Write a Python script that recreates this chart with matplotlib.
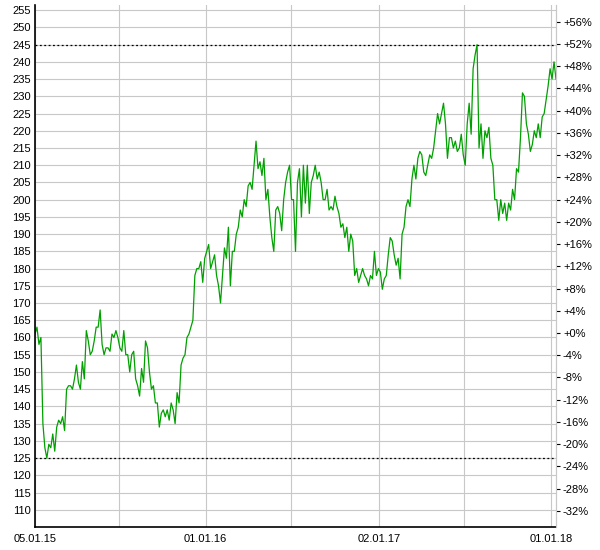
import matplotlib
matplotlib.use("Agg")
import matplotlib.pyplot as plt
import pandas as pd

plt.rcParams['font.family'] = ['Liberation Sans', 'DejaVu Sans']

values = [161,163,158,160,135,128,125,129,128,132,127,134,136,135,137,133,145,146,146,145,148,152,147,145,153,148,162,159,155,156,159,163,163,168,158,155,157,157,156,161,160,162,160,157,156,162,155,155,150,155,156,148,146,143,151,147,159,157,150,145,146,141,141,134,138,139,137,139,136,141,139,135,144,141,152,154,155,160,161,163,165,178,180,180,182,176,183,185,187,180,182,184,178,175,170,178,186,183,192,175,185,185,190,192,197,195,200,198,204,205,203,210,217,209,211,207,212,200,203,195,189,185,197,198,196,191,200,205,208,210,200,200,185,205,209,195,210,199,210,196,205,207,210,206,208,205,200,200,203,197,198,197,201,198,196,192,193,189,192,185,190,188,178,180,176,178,180,178,177,175,178,177,185,178,180,179,174,177,178,184,189,188,184,181,183,177,190,192,198,200,198,206,210,206,212,214,213,208,207,210,213,212,215,220,225,222,225,228,222,212,218,218,215,217,214,215,219,213,210,222,228,219,238,242,245,215,222,212,220,218,221,212,210,200,200,194,200,196,199,194,199,197,203,200,209,208,218,231,230,222,219,214,216,220,218,222,218,224,225,229,233,238,235,240,235]
start_date = "2015-01-05"
end_date = "2018-01-12"
base = 161.3
left_ticks = list(range(110, 256, 5))
pct_ticks = list(range(-32, 57, 4))
x_ticks = ["2015-01-05", "2016-01-01", "2017-01-02", "2018-01-01"]
x_labels = ["05.01.15", "01.01.16", "02.01.17", "01.01.18"]
half_years = ["2015-07-01", "2016-07-01", "2017-07-01"]

dates = pd.date_range(start_date, end_date, periods=len(values))

fig = plt.figure(figsize=(6, 5.5), dpi=100)
ax = fig.add_axes([35/600, 23/550, 521/600, 522/550])
ax.plot(dates, values, color="#00a000", lw=0.9)
ax.set_ylim(105, 256.5)
ax.set_xlim(pd.Timestamp(start_date), pd.Timestamp(end_date))
ax.set_yticks(left_ticks)
ax.set_xticks([pd.Timestamp(d) for d in x_ticks])
ax.set_xticklabels(x_labels)
ax.set_xticks([pd.Timestamp(d) for d in half_years], minor=True)
ax.grid(True, which="both", color="#c8c8c8", lw=0.8)
ax.set_axisbelow(True)
ax.axhline(min(values), color="black", ls=(0, (1.5, 2)), lw=0.9)
ax.axhline(max(values), color="black", ls=(0, (1.5, 2)), lw=0.9)
ax.tick_params(which="both", labelsize=8, length=0, pad=3)
ax.tick_params(axis="x", pad=5)
ax.spines["top"].set_visible(False)
ax.spines["right"].set_color("#c8c8c8")
ax.spines["left"].set_linewidth(1.2)
ax.spines["bottom"].set_linewidth(1.2)

ax2 = ax.twinx()
ax2.set_ylim(ax.get_ylim())
ax2.set_yticks([base * (1 + p / 100) for p in pct_ticks])
ax2.set_yticklabels([f"{'+' if p >= 0 else '-'}{abs(p)}%" for p in pct_ticks])
ax2.tick_params(labelsize=8, length=3, width=0.8, direction="out", pad=2)
for s in ["top", "left", "bottom"]:
    ax2.spines[s].set_visible(False)
ax2.spines["right"].set_color("#c8c8c8")

fig.savefig("out.png", dpi=100)
